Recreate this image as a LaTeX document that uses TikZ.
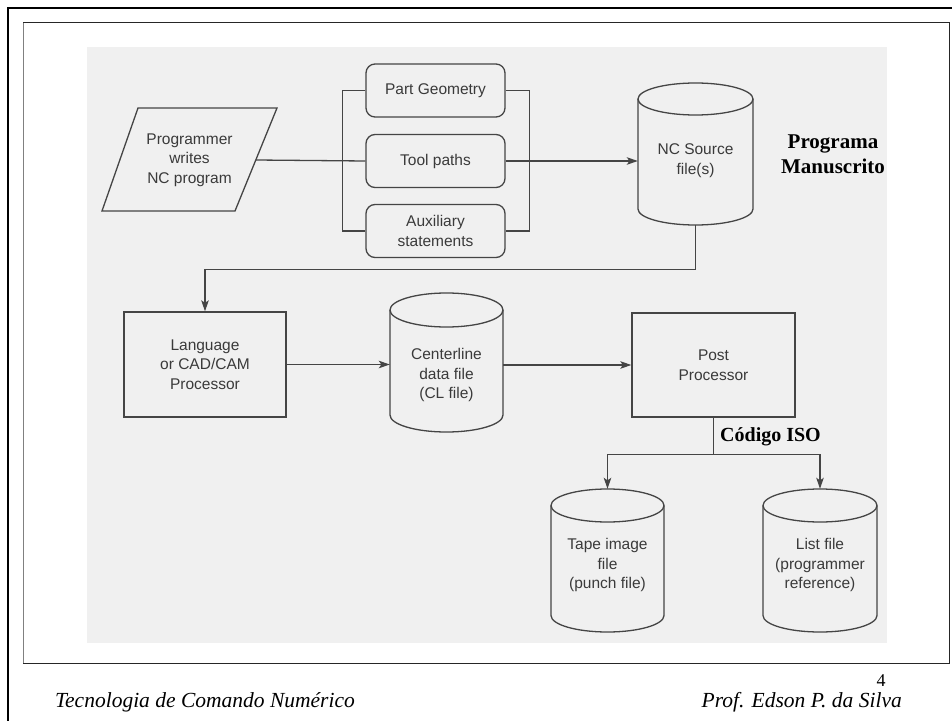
\documentclass[tikz,border=0pt]{standalone}
\usepackage{fontspec}
\setmainfont{Liberation Serif}
\newfontfamily\diagfont{Liberation Sans}
\usetikzlibrary{arrows.meta,calc}
\definecolor{ink}{HTML}{454545}
\definecolor{txt}{HTML}{3A3A3A}
\definecolor{paper}{HTML}{F0F0F0}
\tikzset{
  conn/.style={draw=ink, line width=1.3bp},
  arr/.style={conn, -{Stealth[length=11bp,width=7.5bp,inset=2.5bp]}},
  ltext/.style={font=\diagfont\fontsize{15.5bp}{19.5bp}\selectfont, text=txt, align=center, inner sep=0pt},
  rbox/.style={conn, rounded corners=9bp, minimum width=139bp, minimum height=53bp, font=\diagfont\fontsize{15.5bp}{19.5bp}\selectfont, text=txt, align=center},
  sbox/.style={conn, minimum width=162bp, minimum height=105bp, font=\diagfont\fontsize{15.5bp}{19.5bp}\selectfont, text=txt, align=center},
  cylshape/.style={inner sep=0pt, draw=none},
  boldtext/.style={font=\bfseries\fontsize{21bp}{25bp}\selectfont, align=center, inner sep=0pt},
  foot/.style={font=\itshape\fontsize{21.5bp}{24bp}\selectfont, inner sep=0pt}
}
% name, cx, ytop, ybot, hw, ry, texty, text
\newcommand\dbcyl[8]{%
  \node[cylshape, minimum width={2*#5bp}, minimum height={(#4-#3)*1bp}] (#1) at (#2,{(#3+#4)/2}) {};
  \draw[conn] ({#2-#5},{#3+#6}) -- ({#2-#5},{#4-#6}) arc[start angle=180,end angle=0,x radius=#5,y radius=#6] -- ({#2+#5},{#3+#6});
  \draw[conn] (#2,{#3+#6}) ellipse[x radius=#5, y radius=#6];
  \node[ltext] (#1-t) at (#2,#7) {#8};
}
\begin{document}
\begin{tikzpicture}[x=1bp,y=-1bp]
\useasboundingbox (0,0) rectangle (952,721);
% frames
\draw[line width=2.2bp, black] (8,721) -- (8,8) -- (952,8);
\fill[paper] (87,47) rectangle (887,643);
\draw[line width=1bp, black!85] (23,23) -- (949,23) -- (949,663) -- (23,663);
\draw[line width=1bp, black!50] (23,23) -- (23,663);

% programmer parallelogram
\draw[conn] (138,108) -- (277,108) -- (235,211) -- (102,211) -- cycle;
\node[ltext] (prog) at (189.5,160) {Programmer\\writes\\NC program};
\coordinate (progR) at (256,160);

% rounded boxes
\node[rbox] (pg) at (435.5,90.5) {Part Geometry};
\node[rbox] (tp) at (435.5,161) {Tool paths};
\node[rbox] (aux) at (435.5,231) {Auxiliary\\statements};

% cylinders
\dbcyl{ncs}{695.5}{83}{225}{57.5}{16}{160.5}{NC Source\\file(s)}
\dbcyl{cl}{446.5}{293}{432}{56.5}{17}{375}{Centerline\\data file\\(CL file)}
\dbcyl{tape}{607.5}{489}{632}{56.5}{16.5}{565}{Tape image\\file\\(punch file)}
\dbcyl{list}{820}{489}{632}{57}{16.5}{565}{List file\\(programmer\\reference)}

% square boxes
\node[sbox] (lang) at (205,364.5) {Language\\or CAD/CAM\\Processor};
\node[sbox, minimum width=163bp, minimum height=104bp] (post) at (713.5,365) {Post\\Processor};

% labels
\node[boldtext] (pm) at (833,154.5) {Programa\\Manuscrito};
\node[boldtext, font=\bfseries\fontsize{20bp}{24bp}\selectfont, anchor=west] (iso) at (720,437) {Código ISO};

% connectors
\draw[conn] (progR) -- (tp.west);
\draw[arr] (tp.east) -- (tp.east -| ncs.west);
\draw[conn] (pg.west) -- ++(-23,0) |- (aux.west);
\draw[conn] (pg.east) -- ++(24,0) |- (aux.east);
\draw[arr] (ncs.south) -- ++(0,44) -| (lang.north);
\draw[arr] (lang.east) -- (lang.east -| cl.west);
\draw[arr] (post.west -| cl.east) -- (post.west);
\draw[conn] (post.south) -- ++(0,37) coordinate (split);
\draw[arr] (split) -| (tape.north);
\draw[arr] (split) -| (list.north);

% footer
\node[foot, anchor=base west] (f1) at (55,707) {Tecnologia de Comando Numérico};
\node[foot, anchor=base east] (f2) at (902,707) {Prof. Edson P. da Silva};
\node[font=\fontsize{18bp}{20bp}\selectfont, anchor=base, inner sep=0pt] (pnum) at (881,686) {4};
\end{tikzpicture}
\end{document}
